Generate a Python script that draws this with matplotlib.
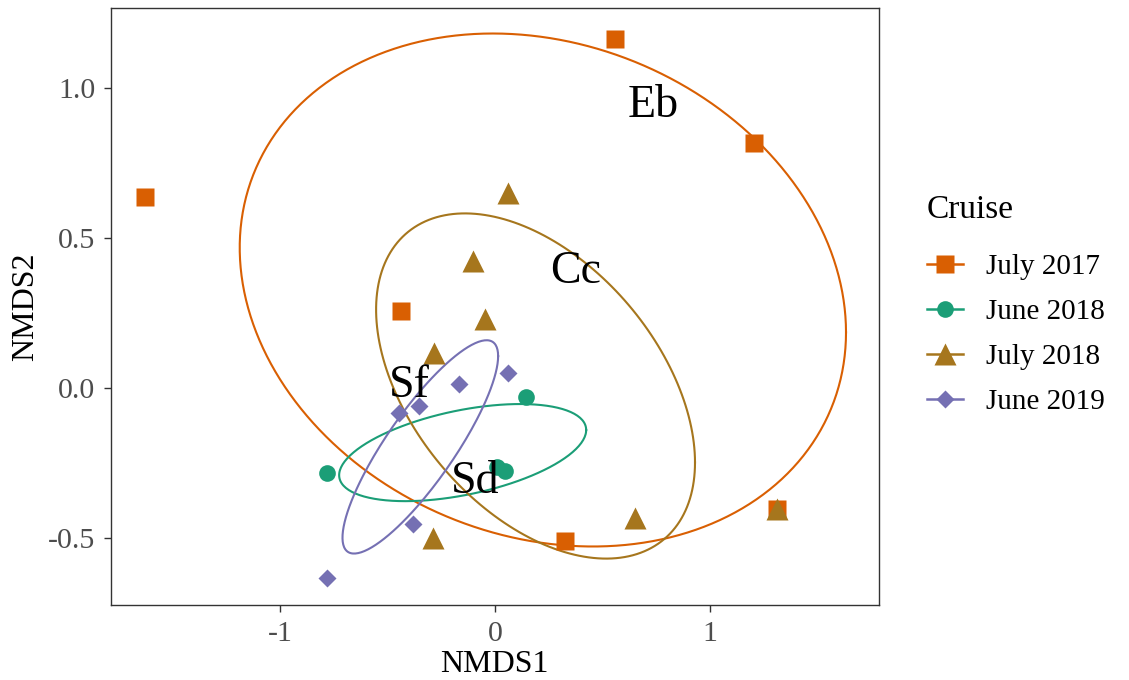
import matplotlib
matplotlib.use("Agg")
import matplotlib.pyplot as plt
from matplotlib.lines import Line2D
import numpy as np

plt.rcParams["font.family"] = ["Liberation Serif", "DejaVu Serif"]

# cruises and their NMDS scores
cruises = ["July 2017", "June 2018", "July 2018", "June 2019"]
colors = ["#D95F02", "#1B9E77", "#A6761D", "#7570B3"]
markers = ["s", "o", "^", "D"]
msizes = [13.5, 12.0, 16.0, 9.2]

jul17_x = [-1.628, 0.558, 1.205, -0.439, 0.326, 1.313]
jul17_y = [0.639, 1.163, 0.819, 0.258, -0.508, -0.403]
jun18_x = [-0.783, 0.144, 0.008, 0.047]
jun18_y = [-0.281, -0.028, -0.261, -0.275]
jul18_x = [0.059, -0.104, -0.045, -0.284, -0.287, 0.651, 1.313]
jul18_y = [0.652, 0.425, 0.233, 0.118, -0.500, -0.433, -0.403]
jun19_x = [-0.167, 0.062, -0.352, -0.447, -0.380, -0.783]
jun19_y = [0.014, 0.050, -0.057, -0.083, -0.452, -0.631]
xs = [jul17_x, jun18_x, jul18_x, jun19_x]
ys = [jul17_y, jun18_y, jul18_y, jun19_y]

# ellipses: centre and covariance (sxx, syy, sxy)
ell_cx = [0.223, -0.150, 0.189, -0.347]
ell_cy = [0.328, -0.214, 0.008, -0.195]
ell_sxx = [1.988, 0.330, 0.550, 0.131]
ell_syy = [0.731, 0.0262, 0.331, 0.1264]
ell_sxy = [-0.199, 0.0432, -0.189, 0.1095]

# species labels
lab_txt = ["Eb", "Cc", "Sf", "Sd"]
lab_x = [0.735, 0.377, -0.399, -0.093]
lab_y = [0.905, 0.350, -0.028, -0.348]

W, H = 1129, 680
fig = plt.figure(figsize=(W / 100, H / 100), dpi=100)
ax = fig.add_axes([110.7 / W, (H - 605) / H, (878.7 - 110.7) / W, (605 - 8.3) / H])

t = np.linspace(0, 2 * np.pi, 200)
circ = np.vstack([np.cos(t), np.sin(t)])
for i in range(4):
    S = np.array([[ell_sxx[i], ell_sxy[i]], [ell_sxy[i], ell_syy[i]]])
    L = np.linalg.cholesky(S)
    e = L @ circ
    ax.plot(ell_cx[i] + e[0], ell_cy[i] + e[1], color=colors[i], lw=1.5, zorder=2)

for i in range(4):
    ax.plot(xs[i], ys[i], ls="none", marker=markers[i], ms=msizes[i],
            color=colors[i], mec="none", zorder=3)

for s, x, y in zip(lab_txt, lab_x, lab_y):
    ax.text(x, y, s, ha="center", va="baseline", fontsize=33, color="black", zorder=4)

ax.set_xlim(-1.787, 1.785)
ax.set_ylim(-0.722, 1.267)
ax.set_xticks([-1, 0, 1])
ax.set_xticklabels(["-1", "0", "1"])
ax.set_yticks([-0.5, 0.0, 0.5, 1.0])
ax.set_yticklabels(["-0.5", "0.0", "0.5", "1.0"])
ax.tick_params(length=5, width=1, color="#333333", labelcolor="#4D4D4D",
               labelsize=21.5)
ax.tick_params(axis="x", pad=6.5)
ax.tick_params(axis="y", pad=6)
for sp in ax.spines.values():
    sp.set_color("#333333")
    sp.set_linewidth(1)
ax.set_xlabel("NMDS1", fontsize=23, labelpad=2.5)
ax.set_ylabel("NMDS2", fontsize=23, labelpad=6)

handles = [Line2D([], [], color=c, lw=1.8, marker=m, ms=ms, mec="none")
           for c, m, ms in zip(colors, markers, msizes)]
leg = fig.legend(handles, cruises, title="Cruise", loc="upper left",
                 bbox_to_anchor=(915 / W, 1 - 183 / H), frameon=False,
                 fontsize=21, title_fontsize=24, handlelength=1.25,
                 handletextpad=0.8, labelspacing=0.64, alignment="left",
                 borderaxespad=0)
leg._legend_box.sep = 0.64 * 21 + 7

fig.savefig("out.png", dpi=100, facecolor="white")
